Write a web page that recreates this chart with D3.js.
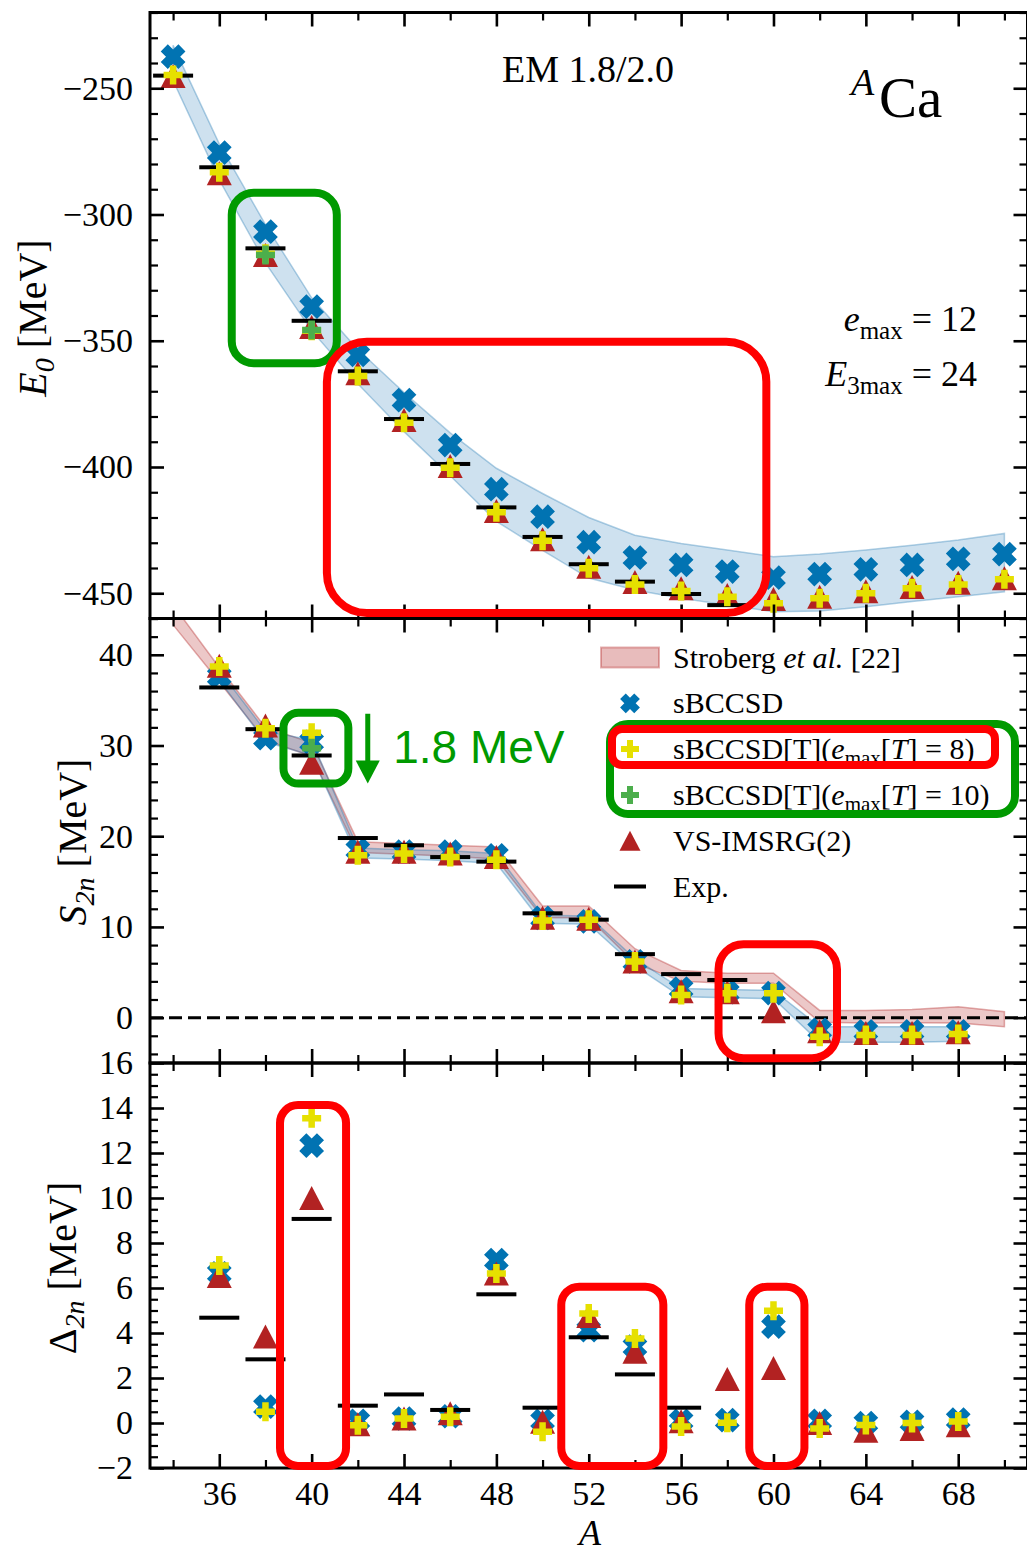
<!DOCTYPE html>
<html>
<head>
<meta charset="utf-8">
<script src="https://cdn.jsdelivr.net/npm/d3@7"></script>
<style>
  body { margin: 0; background: #fff; }
  svg { display: block; }
</style>
</head>
<body>
<div id="chart"></div>
<script>

/* - - - DATA - - - */

// mass numbers
var aE0 = [34, 36, 38, 40, 42, 44, 46, 48, 50, 52, 54, 56, 58, 60, 62, 64, 66, 68, 70];
var aS2n = [36, 38, 40, 42, 44, 46, 48, 50, 52, 54, 56, 58, 60, 62, 64, 66, 68];
var aExpE0 = [34, 36, 38, 40, 42, 44, 46, 48, 50, 52, 54, 56, 58];
var aExpS2n = [36, 38, 40, 42, 44, 46, 48, 50, 52, 54, 56, 58];
var aExpD2n = [36, 38, 40, 42, 44, 46, 48, 50, 52, 54, 56];
var aT10E0 = [38, 40];
var aT10S2n = [40];

// ground state energies E0 [MeV]
var e0Sbccsd = [-237.5, -275.5, -306.8, -336.5, -355.6, -373.5, -391.3, -408.8, -419.7, -429.8, -435.9, -438.8, -441.4, -443.8, -442.4, -440.5, -438.8, -436.4, -434.5];
var e0T8 = [-244.8, -283.3, -315.5, -346.0, -364.0, -382.5, -400.3, -417.9, -429.2, -440.1, -446.5, -449.1, -451.4, -454.0, -452.0, -450.0, -448.0, -446.5, -444.5];
var e0T10 = [-316.0, -345.7];
var e0Imsrg = [-245.1, -283.7, -316.0, -344.6, -362.9, -381.4, -399.6, -417.4, -428.6, -439.5, -445.5, -448.0, -450.7, -452.3, -451.4, -449.2, -447.5, -445.8, -444.1];
var e0Exp = [-245.0, -281.3, -313.4, -342.1, -362.1, -381.0, -398.8, -416.0, -427.7, -438.5, -445.4, -450.3, -454.7];
var e0BandHi = [-233, -272, -304, -333, -353.5, -370.5, -386.5, -400.5, -410.5, -420, -427, -430.3, -432.9, -435.5, -434.5, -432.9, -431, -428.9, -426.3];
var e0BandLo = [-247, -286.3, -319.2, -346, -367, -386, -403.5, -421.5, -433, -444, -448.7, -452, -454.7, -457.3, -457, -455.3, -453.3, -451.4, -449.4];

// two-neutron separation energies S2n [MeV]
var s2nSbccsd = [37.6, 30.8, 30.4, 18.5, 18.3, 18.3, 17.9, 11.0, 10.6, 6.2, 3.2, 2.8, 2.7, -1.35, -1.5, -1.5, -1.5];
var s2nT8 = [38.7, 31.9, 31.4, 17.9, 18.1, 17.7, 17.4, 10.7, 10.8, 6.2, 2.5, 2.7, 2.7, -2.1, -1.9, -1.9, -1.8];
var s2nT10 = [29.7];
var s2nImsrg = [38.8, 32.2, 28.1, 18.3, 18.3, 18.1, 17.7, 11.0, 10.9, 6.2, 2.9, 2.8, 0.7, -1.5, -1.7, -1.7, -1.6];
var s2nExp = [36.4, 31.8, 28.9, 19.8, 19.0, 17.7, 17.2, 11.5, 10.8, 7.0, 4.8, 4.15];
var strobergHi = [45.5, 38.6, 32.0, 30.3, 19.4, 19.2, 19.0, 18.8, 12.3, 12.3, 7.6, 5.2, 4.9, 4.9, 0.8, 0.8, 0.9, 1.2, 0.65];
var strobergLo = [43.3, 37.0, 30.6, 28.8, 18.2, 18.0, 17.8, 17.5, 11.0, 11.0, 6.0, 4.0, 3.8, 3.8, -0.5, -0.6, -0.55, -0.6, -1.0];
var s2nBandHi = [38.3, 31.6, 30.6, 18.7, 18.5, 18.4, 18.1, 11.3, 11.2, 6.5, 3.2, 3.1, 3.0, -1.0, -1.0, -1.0, -1.0];
var s2nBandLo = [37.2, 30.4, 28.9, 17.6, 17.5, 17.3, 17.0, 10.4, 10.3, 5.7, 2.3, 2.2, 2.1, -2.7, -2.7, -2.7, -2.6];

// two-neutron shell gaps D2n [MeV]
var d2nSbccsd = [6.65, 0.73, 12.33, 0.1, 0.2, 0.3, 7.24, 0.1, 4.13, 3.39, 0.1, 0.13, 4.28, 0.1, 0.0, 0.05, 0.15];
var d2nT8 = [7.0, 0.5, 13.54, -0.1, 0.2, 0.28, 6.65, -0.39, 4.87, 3.76, -0.16, 0.01, 4.99, -0.24, -0.09, 0.0, 0.07];
var d2nImsrg = [6.53, 3.84, 10.0, -0.05, 0.2, 0.43, 6.65, 0.06, 4.76, 3.17, 0.08, 1.96, 2.44, 0.0, -0.34, -0.27, -0.1];
var d2nExp = [4.68, 2.83, 9.07, 0.77, 1.27, 0.58, 5.72, 0.68, 3.81, 2.16, 0.68];

// ticks
var xMajor = [36, 40, 44, 48, 52, 56, 60, 64, 68];
var xMinor = [34, 38, 42, 46, 50, 54, 58, 62, 66, 70];
var e0Major = [-450, -400, -350, -300, -250];
var s2nMajor = [0, 10, 20, 30, 40];
var d2nMajor = [-2, 0, 2, 4, 6, 8, 10, 12, 14, 16];

// highlight boxes, data coords [A0, A1, y0, y1]
var e0Boxes = [{c: 'green', b: [36.54, 41.09, -291.4, -358.9], r: 22}, {c: 'red', b: [40.66, 59.69, -350.4, -457.8], r: 40}];
var s2nBoxes = [{c: 'green', b: [38.78, 41.59, 33.6, 25.8], r: 15}, {c: 'red', b: [57.62, 62.75, 8.1, -4.47], r: 25}];
var d2nBoxes = [{c: 'red', b: [38.63, 41.49, 14.13, -1.91], r: 18}, {c: 'red', b: [50.81, 55.23, 6.06, -1.91], r: 18}, {c: 'red', b: [58.95, 61.34, 6.06, -1.91], r: 18}];

/* - - - END DATA - - - */

var W = 1027, H = 1554;
var serif = '"Liberation Serif", "DejaVu Serif", serif';
var cBlue = '#0173b2', cYellow = '#e6e000', cGreen = '#4cae4c', cRed = '#b22222';
var boxColors = {green: '#009a00', red: '#ff0000'};

var svg = d3.select('#chart').append('svg')
    .attr('width', W).attr('height', H)
    .style('font-family', serif);

var left = 150, right = 1027.5;
var x = d3.scaleLinear().domain([33, 71]).range([left, right]);
var yE = d3.scaleLinear().domain([-460, -220]).range([618.5, 12.5]);
var yS = d3.scaleLinear().domain([-5, 44]).range([1063, 618.5]);
var yD = d3.scaleLinear().domain([-2, 16]).range([1468, 1063]);

function minors(major, step, lo, hi) {
    var out = [];
    var n = Math.round((hi - lo) / step);
    for (var i = 0; i <= n; i++) {
        var v = +(lo + i * step).toFixed(4);
        if (major.indexOf(v) < 0) out.push(v);
    }
    return out;
}

/* - - - marker shapes - - - */

function plusPath(w, t) {
    var a = w / 2, b = t / 2;
    return 'M' + (-b) + ',' + (-a) + 'H' + b + 'V' + (-b) + 'H' + a + 'V' + b + 'H' + b +
        'V' + a + 'H' + (-b) + 'V' + b + 'H' + (-a) + 'V' + (-b) + 'H' + (-b) + 'Z';
}
function triPath(w, h) {
    return 'M0,' + (-h / 2) + 'L' + (w / 2) + ',' + (h / 2) + 'L' + (-w / 2) + ',' + (h / 2) + 'Z';
}

function drawPoints(g, xs, ys, y, d, color, rot) {
    g.selectAll(null).data(xs).enter().append('path')
        .attr('d', d)
        .attr('fill', color)
        .attr('transform', function (a, i) {
            return 'translate(' + x(a) + ',' + y(ys[i]) + ')' + (rot ? ' rotate(45)' : '');
        });
}

function drawExp(g, xs, ys, y) {
    g.selectAll(null).data(xs).enter().append('rect')
        .attr('x', function (a) { return x(a) - 20; })
        .attr('y', function (a, i) { return y(ys[i]) - 2; })
        .attr('width', 40).attr('height', 4)
        .attr('fill', '#000');
}

function drawBand(g, xs, hi, lo, y, color, op) {
    var area = d3.area()
        .x(function (a) { return x(a); })
        .y0(function (a, i) { return y(lo[i]); })
        .y1(function (a, i) { return y(hi[i]); });
    g.append('path').datum(xs).attr('d', area)
        .attr('fill', color).attr('fill-opacity', op)
        .attr('stroke', color).attr('stroke-opacity', op + 0.12).attr('stroke-width', 1.5);
}

function drawPanel(id, y, yMajor, yMinor, showX) {
    var top = y.range()[1], bottom = y.range()[0];
    svg.append('clipPath').attr('id', 'clip-' + id).append('rect')
        .attr('x', left).attr('y', top).attr('width', right - left).attr('height', bottom - top);
    var g = svg.append('g');
    var data = g.append('g').attr('clip-path', 'url(#clip-' + id + ')');
    return {g: g, data: data, top: top, bottom: bottom, y: y, yMajor: yMajor, yMinor: yMinor, showX: showX};
}

function drawFrame(p) {
    var g = p.g.append('g');
    function style(sel, w) {
        sel.select('.domain').remove();
        sel.selectAll('line').attr('stroke', '#000').attr('stroke-width', w);
        sel.selectAll('text').style('font-family', serif).style('font-size', '34px').attr('fill', '#000');
    }
    // y major with labels
    g.append('g').attr('transform', 'translate(' + left + ',0)')
        .call(d3.axisLeft(p.y).tickValues(p.yMajor).tickSize(-14).tickPadding(17))
        .call(style, 2.6);
    g.append('g').attr('transform', 'translate(' + left + ',0)')
        .call(d3.axisLeft(p.y).tickValues(p.yMinor).tickSize(-8).tickFormat(''))
        .call(style, 2.2);
    g.append('g').attr('transform', 'translate(' + right + ',0)')
        .call(d3.axisRight(p.y).tickValues(p.yMajor).tickSize(-14).tickFormat(''))
        .call(style, 2.6);
    g.append('g').attr('transform', 'translate(' + right + ',0)')
        .call(d3.axisRight(p.y).tickValues(p.yMinor).tickSize(-8).tickFormat(''))
        .call(style, 2.2);
    // x ticks top and bottom
    g.append('g').attr('transform', 'translate(0,' + p.top + ')')
        .call(d3.axisTop(x).tickValues(xMajor).tickSize(-14).tickFormat(''))
        .call(style, 2.6);
    g.append('g').attr('transform', 'translate(0,' + p.top + ')')
        .call(d3.axisTop(x).tickValues(xMinor).tickSize(-8).tickFormat(''))
        .call(style, 2.2);
    var bx = d3.axisBottom(x).tickValues(xMajor).tickSize(-14).tickPadding(13);
    if (!p.showX) bx.tickFormat('');
    g.append('g').attr('transform', 'translate(0,' + p.bottom + ')')
        .call(bx).call(style, 2.6);
    g.append('g').attr('transform', 'translate(0,' + p.bottom + ')')
        .call(d3.axisBottom(x).tickValues(xMinor).tickSize(-8).tickFormat(''))
        .call(style, 2.2);
    g.append('rect')
        .attr('x', left).attr('y', p.top).attr('width', right - left).attr('height', p.bottom - p.top)
        .attr('fill', 'none').attr('stroke', '#000').attr('stroke-width', 3);
}

function drawBoxes(boxes, y) {
    svg.append('g').selectAll('rect').data(boxes).enter().append('rect')
        .attr('x', function (d) { return x(d.b[0]); })
        .attr('y', function (d) { return y(d.b[2]); })
        .attr('width', function (d) { return x(d.b[1]) - x(d.b[0]); })
        .attr('height', function (d) { return y(d.b[3]) - y(d.b[2]); })
        .attr('rx', function (d) { return d.r; })
        .attr('fill', 'none')
        .attr('stroke', function (d) { return boxColors[d.c]; })
        .attr('stroke-width', 8);
}

var shapeX = plusPath(25, 10);
var shapePlus = plusPath(19, 6.5);
var shapeTri = triPath(25, 24);

/* - - - TOP PANEL: E0 - - - */

var pE = drawPanel('e0', yE, e0Major, minors(e0Major, 10, -460, -220), false);
drawBand(pE.data, aE0, e0BandHi, e0BandLo, yE, '#1f77b4', 0.22);
drawPoints(pE.data, aE0, e0Sbccsd, yE, shapeX, cBlue, true);
drawPoints(pE.data, aE0, e0Imsrg, yE, shapeTri, cRed, false);
drawExp(pE.data, aExpE0, e0Exp, yE);
drawPoints(pE.data, aE0, e0T8, yE, shapePlus, cYellow, false);
drawPoints(pE.data, aT10E0, e0T10, yE, shapePlus, cGreen, false);
drawFrame(pE);

svg.append('text').attr('x', 588).attr('y', 82).attr('text-anchor', 'middle')
    .style('font-size', '38px').text('EM 1.8/2.0');
svg.append('text').attr('x', 851).attr('y', 95).style('font-size', '38px')
    .style('font-style', 'italic').text('A');
svg.append('text').attr('x', 879).attr('y', 117).style('font-size', '57px').text('Ca');

var emax = svg.append('text').attr('x', 977).attr('y', 331).attr('text-anchor', 'end').style('font-size', '36px');
emax.append('tspan').style('font-style', 'italic').text('e');
emax.append('tspan').style('font-size', '25px').attr('dy', 8).text('max');
emax.append('tspan').attr('dy', -8).text(' = 12');
var e3max = svg.append('text').attr('x', 977).attr('y', 386).attr('text-anchor', 'end').style('font-size', '36px');
e3max.append('tspan').style('font-style', 'italic').text('E');
e3max.append('tspan').style('font-size', '25px').attr('dy', 8).text('3max');
e3max.append('tspan').attr('dy', -8).text(' = 24');

/* - - - MIDDLE PANEL: S2n - - - */

var pS = drawPanel('s2n', yS, s2nMajor, minors(s2nMajor, 2, -4, 44), false);
drawBand(pS.data, aE0, strobergHi, strobergLo, yS, cRed, 0.25);
drawBand(pS.data, aS2n, s2nBandHi, s2nBandLo, yS, '#1f77b4', 0.25);
pS.data.append('line')
    .attr('x1', left).attr('x2', right).attr('y1', yS(0)).attr('y2', yS(0))
    .attr('stroke', '#000').attr('stroke-width', 3).attr('stroke-dasharray', '13,6');
drawPoints(pS.data, aS2n, s2nSbccsd, yS, shapeX, cBlue, true);
drawPoints(pS.data, aS2n, s2nImsrg, yS, shapeTri, cRed, false);
drawExp(pS.data, aExpS2n, s2nExp, yS);
drawPoints(pS.data, aS2n, s2nT8, yS, shapePlus, cYellow, false);
drawPoints(pS.data, aT10S2n, s2nT10, yS, shapePlus, cGreen, false);
drawFrame(pS);

// 1.8 MeV arrow
var arrX = x(42.43), arrTop = yS(33.5), arrTip = yS(25.8);
svg.append('line').attr('x1', arrX).attr('x2', arrX).attr('y1', arrTop).attr('y2', arrTip - 18)
    .attr('stroke', '#009a00').attr('stroke-width', 5);
svg.append('path')
    .attr('d', 'M' + (arrX - 12) + ',' + (arrTip - 23) + 'L' + (arrX + 12) + ',' + (arrTip - 23) + 'L' + arrX + ',' + arrTip + 'Z')
    .attr('fill', '#009a00');
svg.append('text').attr('x', x(43.53)).attr('y', yS(28.05))
    .style('font-family', '"Liberation Sans", Arial, sans-serif').style('font-size', '46px')
    .attr('fill', '#009a00').text('1.8 MeV');

// legend
var legX = 630, legText = 673, legY = 657.5, legStep = 45.8;
var leg = svg.append('g');
leg.append('rect').attr('x', 601).attr('y', legY - 10).attr('width', 58).attr('height', 20)
    .attr('fill', cRed).attr('fill-opacity', 0.3).attr('stroke', cRed).attr('stroke-opacity', 0.35).attr('stroke-width', 2);
leg.append('path').attr('d', plusPath(20, 8)).attr('fill', cBlue)
    .attr('transform', 'translate(' + legX + ',' + (legY + legStep) + ') rotate(45)');
leg.append('path').attr('d', plusPath(18, 6)).attr('fill', cYellow)
    .attr('transform', 'translate(' + legX + ',' + (legY + 2 * legStep) + ')');
leg.append('path').attr('d', plusPath(18, 6)).attr('fill', cGreen)
    .attr('transform', 'translate(' + legX + ',' + (legY + 3 * legStep) + ')');
leg.append('path').attr('d', triPath(21, 20)).attr('fill', cRed)
    .attr('transform', 'translate(' + legX + ',' + (legY + 4 * legStep) + ')');
leg.append('rect').attr('x', legX - 16).attr('y', legY + 5 * legStep - 2).attr('width', 32).attr('height', 4).attr('fill', '#000');

function legLabel(i) {
    return leg.append('text').attr('x', legText).attr('y', legY + i * legStep + 10).style('font-size', '30px');
}
var l0 = legLabel(0);
l0.append('tspan').text('Stroberg ');
l0.append('tspan').style('font-style', 'italic').text('et al.');
l0.append('tspan').text(' [22]');
legLabel(1).text('sBCCSD');
[8, 10].forEach(function (n, k) {
    var t = legLabel(2 + k);
    t.append('tspan').text('sBCCSD[T](');
    t.append('tspan').style('font-style', 'italic').text('e');
    t.append('tspan').style('font-size', '21px').attr('dy', 6).text('max');
    t.append('tspan').attr('dy', -6).text('[');
    t.append('tspan').style('font-style', 'italic').text('T');
    t.append('tspan').text('] = ' + n + ')');
});
legLabel(4).text('VS-IMSRG(2)');
legLabel(5).text('Exp.');

/* - - - BOTTOM PANEL: D2n - - - */

var pD = drawPanel('d2n', yD, d2nMajor, minors(d2nMajor, 0.5, -2, 16), true);
drawPoints(pD.data, aS2n, d2nSbccsd, yD, shapeX, cBlue, true);
drawPoints(pD.data, aS2n, d2nImsrg, yD, shapeTri, cRed, false);
drawExp(pD.data, aExpD2n, d2nExp, yD);
drawPoints(pD.data, aS2n, d2nT8, yD, shapePlus, cYellow, false);
drawFrame(pD);

/* - - - highlight boxes - - - */

drawBoxes(e0Boxes, yE);
drawBoxes(s2nBoxes, yS);
drawBoxes(d2nBoxes, yD);
leg.append('rect').attr('x', 610).attr('y', 724).attr('width', 405).attr('height', 90).attr('rx', 18)
    .attr('fill', 'none').attr('stroke', boxColors.green).attr('stroke-width', 8);
leg.append('rect').attr('x', 612).attr('y', 729).attr('width', 383).attr('height', 36).attr('rx', 10)
    .attr('fill', 'none').attr('stroke', boxColors.red).attr('stroke-width', 8);

/* - - - axis labels - - - */

function yLabel(xPos, yPos, main, sub) {
    var t = svg.append('text').attr('transform', 'translate(' + xPos + ',' + yPos + ') rotate(-90)')
        .attr('text-anchor', 'middle').style('font-size', '40px');
    t.append('tspan').style('font-style', main === '\u0394' ? 'normal' : 'italic').text(main);
    t.append('tspan').style('font-size', '28px').style('font-style', 'italic').attr('dy', 8).text(sub);
    t.append('tspan').attr('dy', -8).text(' [MeV]');
}
yLabel(46, 318, 'E', '0');
yLabel(86, 842, 'S', '2n');
yLabel(76, 1268, '\u0394', '2n');
svg.append('text').attr('x', 590).attr('y', 1545).attr('text-anchor', 'middle')
    .style('font-size', '36px').style('font-style', 'italic').text('A');

</script>
</body>
</html>
